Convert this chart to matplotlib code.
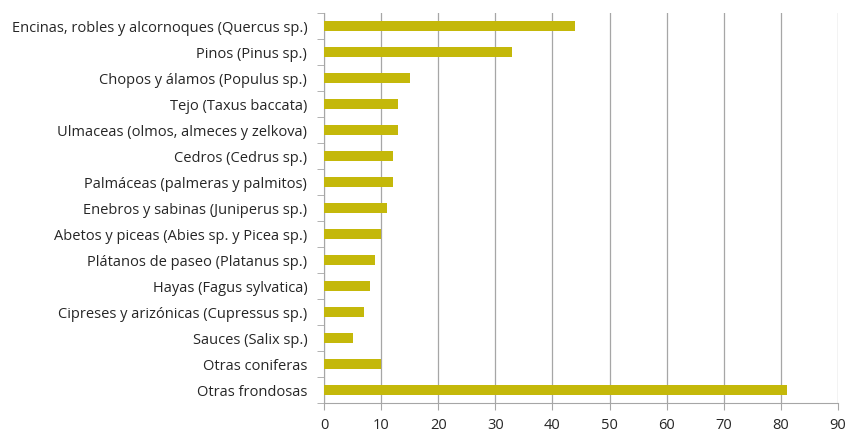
import matplotlib
matplotlib.use("Agg")
import matplotlib.pyplot as plt
import numpy as np

especies = [
    "Encinas, robles y alcornoques (Quercus sp.)",
    "Pinos (Pinus sp.)",
    "Chopos y álamos (Populus sp.)",
    "Tejo (Taxus baccata)",
    "Ulmaceas (olmos, almeces y zelkova)",
    "Cedros (Cedrus sp.)",
    "Palmáceas (palmeras y palmitos)",
    "Enebros y sabinas (Juniperus sp.)",
    "Abetos y piceas (Abies sp. y Picea sp.)",
    "Plátanos de paseo (Platanus sp.)",
    "Hayas (Fagus sylvatica)",
    "Cipreses y arizónicas (Cupressus sp.)",
    "Sauces (Salix sp.)",
    "Otras coniferas",
    "Otras frondosas",
]
valores = [44, 33, 15, 13, 13, 12, 12, 11, 10, 9, 8, 7, 5, 10, 81]
xticks = [0, 10, 20, 30, 40, 50, 60, 70, 80, 90]

plt.rcParams['font.family'] = ['Open Sans', 'DejaVu Sans']

fig = plt.figure(figsize=(8.5, 4.32), dpi=100)
ax = fig.add_axes([324/850, 1 - 403/432, (838-324)/850, (403-13)/432])

y = np.arange(len(especies))
ax.barh(y, valores, height=0.4, color="#C4B80A", zorder=3)

ax.set_ylim(len(especies) - 0.5, -0.5)
ax.set_xlim(0, 90)
ax.set_xticks(xticks)
ax.set_yticks(y)
ax.set_yticklabels(especies, fontsize=10.5, color="#262626")
ax.set_yticks(np.arange(-0.5, len(especies), 1), minor=True)
ax.tick_params(axis="y", which="major", length=0, pad=12)
ax.tick_params(axis="y", which="minor", length=5, color="#A6A6A6", direction="out")
ax.tick_params(axis="x", length=5, color="#A6A6A6", labelsize=10.5, labelcolor="#262626", pad=6)

ax.grid(axis="x", color="#A6A6A6", linewidth=0.9, zorder=0)
for s in ["top", "right"]:
    ax.spines[s].set_visible(False)
ax.spines["left"].set_color("#A6A6A6")
ax.spines["bottom"].set_color("#A6A6A6")

fig.savefig("out.png", dpi=100)
